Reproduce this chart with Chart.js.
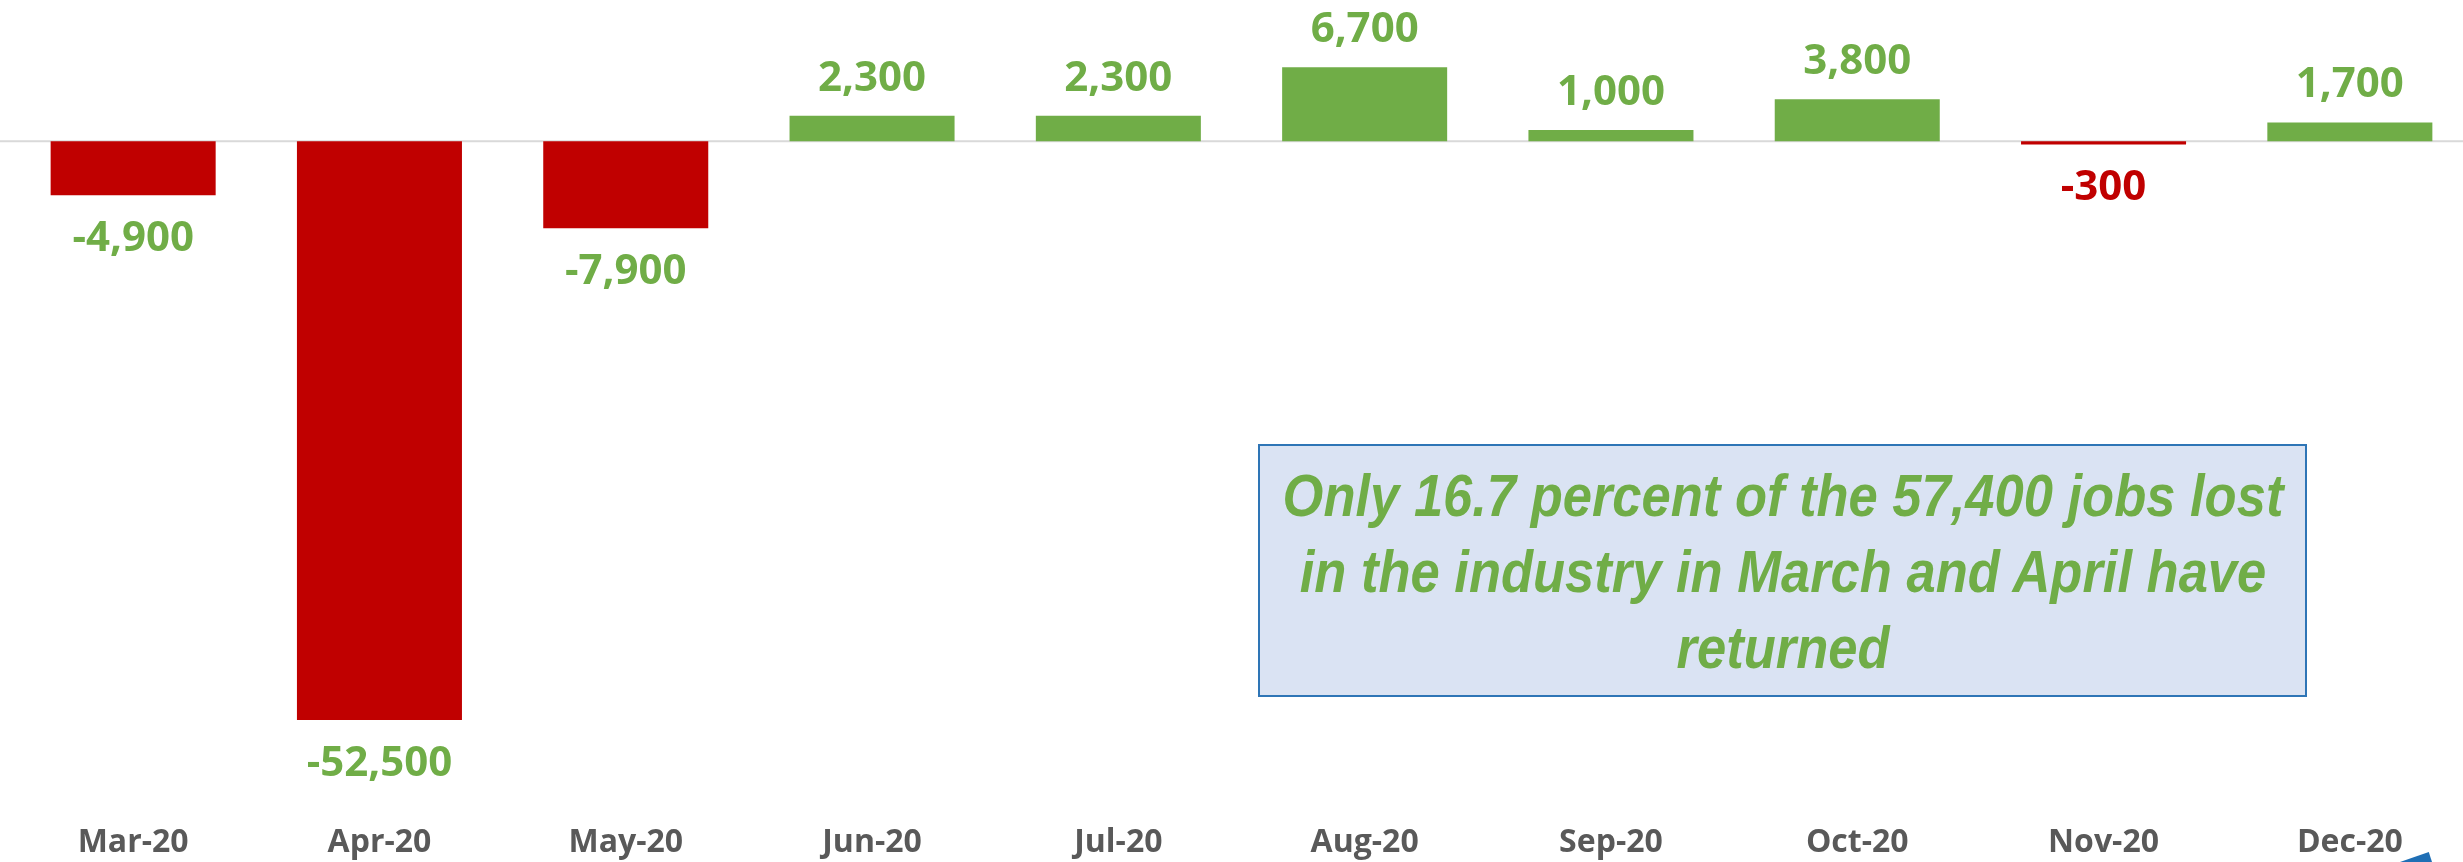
<!DOCTYPE html>
<html>
<head>
<meta charset="utf-8">
<script src="https://cdn.jsdelivr.net/npm/chart.js@4"></script>
<style>
  html, body { margin: 0; padding: 0; background: #fff; overflow: hidden; }
  #wrap { position: absolute; left: 0; top: 0; width: 2480px; height: 862px; }
  #note {
    position: absolute; left: 1258px; top: 444px; width: 1045px; height: 249px;
    background: #DAE3F3; border: 2px solid #2E75B6; overflow: hidden;
  }
  #noteText {
    position: absolute; left: 50%; top: 12px;
    font-family: 'Liberation Sans', Arial, sans-serif;
    font-weight: bold; font-style: italic; font-size: 60px; line-height: 76px;
    color: #70AD47; text-align: center; white-space: nowrap;
    transform-origin: 0 0;
  }
  #corner {
    position: absolute; left: 2400px; top: 852px; width: 32px; height: 10px;
    background: #1F6FB5; clip-path: polygon(0 100%, 90% 0, 100% 100%);
  }
</style>
</head>
<body>
<div id="wrap"><canvas id="myChart"></canvas></div>
<div id="note"><div id="noteText">Only 16.7 percent of the 57,400 jobs lost<br>in the industry in March and April have<br>returned</div></div>
<div id="corner"></div>
<script>
// setup
const months = ['Mar-20', 'Apr-20', 'May-20', 'Jun-20', 'Jul-20', 'Aug-20', 'Sep-20', 'Oct-20', 'Nov-20', 'Dec-20'];
const jobChange = [-4900, -52500, -7900, 2300, 2300, 6700, 1000, 3800, -300, 1700];
// label colour per bar (only Nov is red in the original)
const labelColors = ['#70AD47', '#70AD47', '#70AD47', '#70AD47', '#70AD47', '#70AD47', '#70AD47', '#70AD47', '#C00000', '#70AD47'];

const GREEN = '#70AD47';
const RED = '#C00000';

// squeeze the note text to a narrow look (no narrow font installed)
const noteText = document.getElementById('noteText');
const sx = 1001 / noteText.offsetWidth;
noteText.style.transform = 'scaleX(' + sx + ') translateX(-50%)';

// zero line under the bars
const zeroLine = {
  id: 'zeroLine',
  beforeDatasetsDraw(chart) {
    const { ctx, chartArea, scales } = chart;
    const y = scales.y.getPixelForValue(0);
    ctx.save();
    ctx.strokeStyle = '#D9D9D9';
    ctx.lineWidth = 2;
    ctx.beginPath();
    ctx.moveTo(0, y);
    ctx.lineTo(chartArea.right + 20, y);
    ctx.stroke();
    ctx.restore();
  }
};

// value labels above / below bars
const valueLabels = {
  id: 'valueLabels',
  afterDatasetsDraw(chart) {
    const { ctx } = chart;
    const meta = chart.getDatasetMeta(0);
    ctx.save();
    ctx.font = 'bold 42px "Open Sans"';
    ctx.textAlign = 'center';
    ctx.textBaseline = 'alphabetic';
    meta.data.forEach((bar, i) => {
      const v = jobChange[i];
      ctx.fillStyle = labelColors[i];
      const txt = v.toLocaleString('en-US');
      const y = v >= 0 ? bar.y - 25 : bar.y + 56;
      ctx.fillText(txt, bar.x, y);
    });
    ctx.restore();
  }
};

const config = {
  type: 'bar',
  data: {
    labels: months,
    datasets: [{
      data: jobChange,
      backgroundColor: jobChange.map(v => v < 0 ? RED : GREEN),
      borderWidth: 0,
      categoryPercentage: 1,
      barPercentage: 0.67
    }]
  },
  options: {
    responsive: true,
    maintainAspectRatio: false,
    animation: false,
    layout: { padding: { left: 10, right: 7, top: 0, bottom: 0 } },
    plugins: {
      legend: { display: false },
      tooltip: { enabled: false }
    },
    scales: {
      x: {
        grid: { display: false, drawTicks: false },
        border: { display: false },
        ticks: {
          color: '#595959',
          padding: 0,
          maxRotation: 0,
          font: { family: 'Open Sans', weight: 'bold', size: 32 }
        }
      },
      y: {
        display: false,
        min: -61900,
        max: 12800
      }
    }
  },
  plugins: [zeroLine, valueLabels]
};

const myChart = new Chart(document.getElementById('myChart'), config);
</script>
</body>
</html>
